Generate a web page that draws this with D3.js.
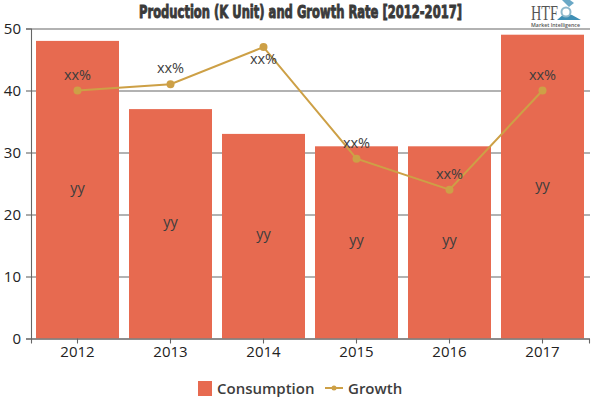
<!DOCTYPE html>
<html>
<head>
<meta charset="utf-8">
<script src="https://cdn.jsdelivr.net/npm/d3@7"></script>
<style>
  html, body { margin: 0; padding: 0; background: #fff; }
  svg { display: block; }
  text { font-family: "Open Sans", "DejaVu Sans", sans-serif; }
</style>
</head>
<body>
<svg id="chart" width="600" height="400"></svg>
<script>
const years = ['2012', '2013', '2014', '2015', '2016', '2017']
const consumption = [48, 37, 33, 31, 31, 49]
const growth = [40, 41, 47, 29, 24, 40]
const barLabels = ['yy', 'yy', 'yy', 'yy', 'yy', 'yy']
const growthLabels = ['xx%', 'xx%', 'xx%', 'xx%', 'xx%', 'xx%']
const yTicks = [0, 10, 20, 30, 40, 50]

const barColor = '#e76a50'
const lineColor = '#cda046'
const gridColor = '#666'
const textColor = '#3d3d3d'

const svg = d3.select('#chart')

const x = d3.scaleBand().domain(years).range([31, 589]).paddingInner(10 / 93).paddingOuter(5 / 93)
const y = d3.scaleLinear().domain([0, 50]).range([338.5, 28.5])
const center = d => x(d) + x.bandwidth() / 2

// gridlines go behind the bars
svg.append('g')
  .attr('transform', 'translate(31,0)')
  .call(d3.axisLeft(y).tickValues(yTicks).tickSize(-559).tickFormat(''))
  .call(g => g.select('.domain').remove())
  .call(g => g.selectAll('line').attr('stroke', gridColor).attr('stroke-width', 1.1))

svg.append('g')
  .selectAll('rect')
  .data(years)
  .join('rect')
  .attr('x', d => x(d))
  .attr('width', x.bandwidth())
  .attr('y', (d, i) => y(consumption[i]))
  .attr('height', (d, i) => y(0) - y(consumption[i]))
  .attr('fill', barColor)

// y axis
const yAxis = svg.append('g')
  .attr('transform', 'translate(31,0)')
  .call(d3.axisLeft(y).tickValues(yTicks).tickSize(5).tickPadding(5))
yAxis.select('.domain').attr('stroke', gridColor).attr('stroke-width', 1.1)
yAxis.selectAll('line').attr('stroke', gridColor).attr('stroke-width', 1.1)
yAxis.selectAll('text').attr('fill', '#222').style('font-size', '15px')

// x axis
const xAxis = svg.append('g')
  .attr('transform', 'translate(0,338.5)')
  .call(d3.axisBottom(x).tickSize(5).tickPadding(3))
xAxis.select('.domain').attr('stroke', gridColor).attr('stroke-width', 1.1)
xAxis.selectAll('line').attr('stroke', gridColor).attr('stroke-width', 1.1)
xAxis.selectAll('text').attr('fill', '#222').style('font-size', '15px')

// yy labels sit in the middle of each bar
svg.append('g')
  .selectAll('text')
  .data(years)
  .join('text')
  .attr('x', d => center(d))
  .attr('y', (d, i) => (y(0) + y(consumption[i])) / 2 + 3)
  .attr('text-anchor', 'middle')
  .attr('fill', textColor)
  .style('font-size', '14.5px')
  .text((d, i) => barLabels[i])

const line = d3.line()
  .x(d => center(d))
  .y((d, i) => y(growth[i]))

svg.append('path')
  .attr('d', line(years))
  .attr('fill', 'none')
  .attr('stroke', lineColor)
  .attr('stroke-width', 2)

svg.append('g')
  .selectAll('circle')
  .data(years)
  .join('circle')
  .attr('cx', d => center(d))
  .attr('cy', (d, i) => y(growth[i]))
  .attr('r', 4)
  .attr('fill', lineColor)

svg.append('g')
  .selectAll('text')
  .data(years)
  .join('text')
  .attr('x', d => center(d))
  .attr('y', (d, i) => y(growth[i]) + (i === 2 ? 17 : -11))
  .attr('text-anchor', 'middle')
  .attr('fill', textColor)
  .style('font-size', '14.5px')
  .text((d, i) => growthLabels[i])

// title
svg.append('text')
  .attr('x', 300.5)
  .attr('y', 18)
  .attr('text-anchor', 'middle')
  .attr('textLength', 323)
  .attr('lengthAdjust', 'spacingAndGlyphs')
  .attr('fill', '#3a3a3a')
  .attr('stroke', '#3a3a3a')
  .attr('stroke-width', 0.9)
  .style('font-family', '"Liberation Sans Narrow", "DejaVu Sans Condensed", sans-serif')
  .style('font-weight', 'bold')
  .style('font-size', '18px')
  .text('Production (K Unit) and Growth Rate [2012-2017]')

// legend
const legend = svg.append('g')
legend.append('rect')
  .attr('x', 198).attr('y', 381).attr('width', 14).attr('height', 15)
  .attr('fill', barColor)
legend.append('text')
  .attr('x', 217).attr('y', 394)
  .attr('fill', textColor)
  .style('font-size', '15px').style('font-weight', 600)
  .text('Consumption')
legend.append('line')
  .attr('x1', 325).attr('x2', 343).attr('y1', 388).attr('y2', 388)
  .attr('stroke', lineColor).attr('stroke-width', 2)
legend.append('circle')
  .attr('cx', 334).attr('cy', 388).attr('r', 2.5).attr('fill', lineColor)
legend.append('text')
  .attr('x', 348).attr('y', 394)
  .attr('fill', textColor)
  .style('font-size', '15px').style('font-weight', 600)
  .text('Growth')

// logo in the top right corner
const logo = svg.append('g')
logo.append('text')
  .attr('x', 531).attr('y', 20)
  .attr('textLength', 27)
  .attr('lengthAdjust', 'spacingAndGlyphs')
  .attr('fill', '#555')
  .style('font-family', '"Liberation Serif", serif')
  .style('font-size', '20px')
  .text('HTF')
logo.append('path')
  .attr('d', 'M557 20 L565 13 L572 15 L581 20 Z')
  .attr('fill', '#3f8fb5')
logo.append('circle')
  .attr('cx', 566).attr('cy', 12).attr('r', 4.5)
  .attr('fill', '#fff').attr('stroke', '#8fb9cc').attr('stroke-width', 2)
logo.append('path')
  .attr('d', 'M562 0 L569 7 L574 3 L570 0 Z')
  .attr('fill', '#6aa8c6')
logo.append('text')
  .attr('x', 531).attr('y', 27)
  .attr('textLength', 49)
  .attr('lengthAdjust', 'spacingAndGlyphs')
  .attr('fill', '#555')
  .style('font-size', '6px')
  .style('font-weight', 600)
  .text('Market Intelligence')
</script>
</body>
</html>
